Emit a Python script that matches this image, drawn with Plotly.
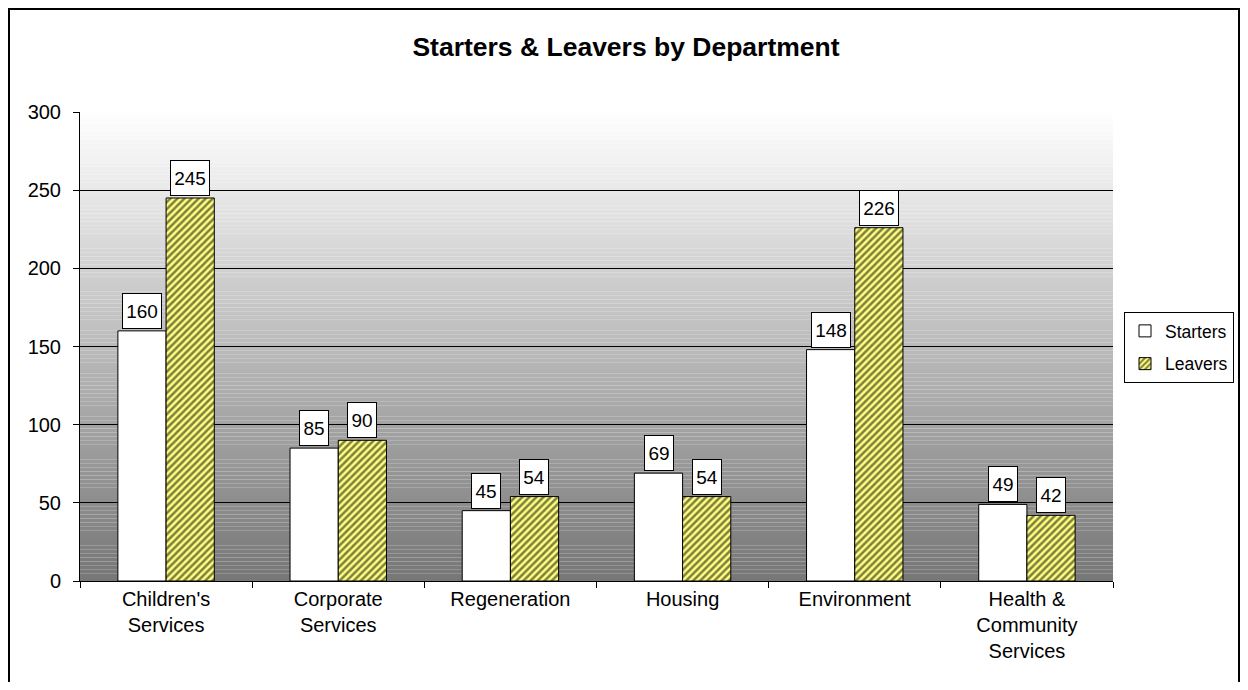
import plotly.graph_objects as go

categories = ["Children's<br>Services", "Corporate<br>Services", "Regeneration", "Housing",
              "Environment", "Health &<br>Community<br>Services"]
starters = [160, 85, 45, 69, 148, 49]
leavers = [245, 90, 54, 54, 226, 42]

FONT = "Arial, Liberation Sans, sans-serif"
W, H = 1232, 674
L, R, T, B = 72, 127, 104, 101
PW, PH = W - L - R, H - T - B

fig = go.Figure()
fig.add_trace(go.Bar(
    name="Starters", x=categories, y=starters, legendgroup="s",
    marker=dict(color="white", line=dict(color="black", width=1)),
))
fig.add_trace(go.Bar(
    name="Leavers", x=categories, y=leavers, legendgroup="l",
    marker=dict(color="#ffff80", line=dict(color="black", width=1),
                pattern=dict(shape="/", fgcolor="black", bgcolor="#ffff80",
                             size=5, solidity=0.5)),
))

# gradient background
N = 120
shapes = []
top, bot = 255, 118
for i in range(N):
    y0 = i / N
    y1 = (i + 1) / N
    t = (i + 0.5) / N
    c = int(round(bot + (top - bot) * t))
    shapes.append(dict(type="rect", xref="paper", yref="paper", x0=0, x1=1, y0=y0, y1=y1,
                       fillcolor=f"rgb({c},{c},{c})", line=dict(width=0), layer="below"))
# outer border
shapes.append(dict(type="rect", xref="paper", yref="paper",
                   x0=(1 - L) / PW, x1=(W - 1 - L) / PW,
                   y0=-0.3, y1=(T + PH - 1) / PH, line=dict(color="black", width=2),
                   fillcolor="rgba(0,0,0,0)", layer="above"))

annotations = []
for series, shift in ((starters, -24), (leavers, 24)):
    for c, v in zip(categories, series):
        annotations.append(dict(x=c, y=v, xref="x", yref="y", text=str(v), showarrow=False,
                                xshift=shift, yanchor="bottom", yshift=2,
                                font=dict(family=FONT, size=19, color="black"),
                                bgcolor="white", bordercolor="black", borderwidth=1,
                                borderpad=3, width=32 if v >= 100 else 22, height=28))

fig.update_layout(
    width=W, height=H,
    margin=dict(l=L, r=R, t=T, b=B, autoexpand=False),
    paper_bgcolor="white", plot_bgcolor="rgba(0,0,0,0)",
    font=dict(family=FONT, size=20, color="black"),
    title=dict(text="<b>Starters & Leavers by Department</b>", x=618 / W, xanchor="center",
               xref="container", yref="container",
               y=1 - 39 / H, yanchor="middle", font=dict(family=FONT, size=26.5, color="black")),
    barmode="group", bargap=0.44, bargroupgap=0,
    showlegend=True,
    legend=dict(xref="container", yref="container", x=1116 / W, y=1 - 304 / H,
                xanchor="left", yanchor="top",
                bordercolor="black", borderwidth=1, bgcolor="white",
                font=dict(family=FONT, size=17.5), itemwidth=30, tracegroupgap=7),
    shapes=shapes, annotations=annotations,
)
fig.update_yaxes(range=[0, 300], dtick=50, showgrid=True, gridcolor="black", gridwidth=1,
                 showline=True, linecolor="black", linewidth=1, ticks="outside", ticklen=6,
                 tickcolor="black", zeroline=False, tickfont=dict(size=20), ticklabelstandoff=8)
fig.update_xaxes(showline=True, linecolor="black", linewidth=1, ticks="outside", ticklen=6,
                 tickcolor="black", tickson="boundaries", tickfont=dict(size=20))

fig.write_html("out.html")
